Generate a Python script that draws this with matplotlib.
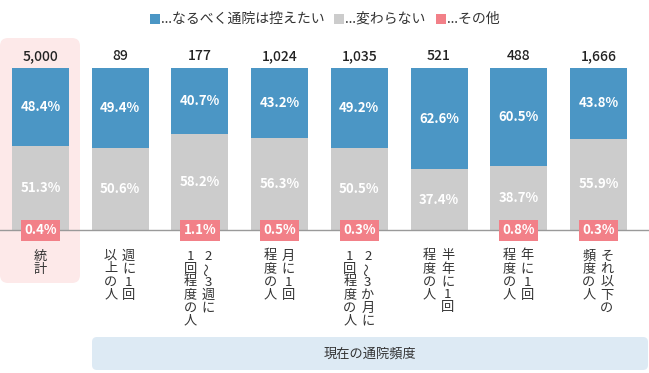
import matplotlib
matplotlib.use("Agg")
import matplotlib.pyplot as plt
import matplotlib.transforms as mtransforms
from matplotlib.patches import FancyBboxPatch, Rectangle

plt.rcParams['font.family'] = ['Noto Sans CJK JP', 'DejaVu Sans']

# ---- data ----
counts = [5000, 89, 177, 1024, 1035, 521, 488, 1666]
blue_vals = [48.4, 49.4, 40.7, 43.2, 49.2, 62.6, 60.5, 43.8]
gray_vals = [51.3, 50.6, 58.2, 56.3, 50.5, 37.4, 38.7, 55.9]
other_vals = [0.4, 0.0, 1.1, 0.5, 0.3, 0.0, 0.8, 0.3]
cat_labels = [
    ["統計"],
    ["週に1回", "以上の人"],
    ["2〜3週に", "1回程度の人"],
    ["月に1回", "程度の人"],
    ["2〜3か月に", "1回程度の人"],
    ["半年に1回", "程度の人"],
    ["年に1回", "程度の人"],
    ["それ以下の", "頻度の人"],
]
legend_labels = ["…なるべく通院は控えたい", "…変わらない", "…その他"]
group_label = "現在の通院頻度"

BLUE = "#4b96c5"
GRAY = "#cccccc"
PINK = "#f28088"
TXT = "#333333"

W, H = 649, 373
fig = plt.figure(figsize=(W / 100, H / 100), dpi=100)
pix = mtransforms.Affine2D().scale(1 / W, -1 / H).translate(0, 1) + fig.transFigure

# background highlights
fig.patches.append(FancyBboxPatch((0, 38), 80, 245, boxstyle="round,pad=0,rounding_size=8",
                                  transform=pix, facecolor="#fde9e9", edgecolor="none", zorder=0))
fig.patches.append(FancyBboxPatch((92, 337), 556, 33, boxstyle="round,pad=0,rounding_size=5",
                                  transform=pix, facecolor="#ddeaf4", edgecolor="none", zorder=0))
fig.text((92 + 648) / 2 / W, 1 - 354 / H, group_label, ha="center", va="center",
         fontsize=9.5, color=TXT)

ax = fig.add_axes([0, 1 - 230 / H, 1, 162 / H])
ax.set_zorder(2)
ax.patch.set_alpha(0)
spacing = 79.7
ax.set_xlim(-40.5 / spacing, (W - 40.5) / spacing)
ax.set_ylim(0, 100)
ax.axis("off")

x = list(range(len(counts)))
bw = 57 / spacing
# the small "other" share is shown only as a label box on the baseline
ax.bar(x, gray_vals, width=bw, color=GRAY, zorder=2)
tops = [100 - b for b in blue_vals]
ax.bar(x, blue_vals, width=bw, bottom=tops, color=BLUE, zorder=2)
ax.bar(x, [t - g for t, g in zip(tops, gray_vals)], width=bw, bottom=gray_vals, color=GRAY, zorder=2)
ax.axhline(0, color="#9a9a9a", lw=1, zorder=3, clip_on=False)

bt = mtransforms.blended_transform_factory(ax.transData, pix)
for i in x:
    g, b = gray_vals[i], blue_vals[i]
    ax.text(i, 100 - b / 2, f"{b:.1f}%", ha="center", va="center", color="white",
            fontsize=9.5, fontweight="bold", zorder=4)
    ax.text(i, (100 - b) / 2, f"{g:.1f}%", ha="center", va="center", color="white",
            fontsize=9.5, fontweight="bold", zorder=4)
    ax.text(i, 56, f"{counts[i]:,}", transform=bt, ha="center", va="center", color="#222222",
            fontsize=10, fontweight="medium", zorder=4, clip_on=False)

for i in x:
    if other_vals[i] > 0:
        ax.text(i, 230.5, f"{other_vals[i]:.1f}%", transform=bt, ha="center", va="center",
                color="white", fontsize=9.5, fontweight="bold", zorder=5, clip_on=False,
                bbox=dict(boxstyle="square,pad=0.25", facecolor=PINK, edgecolor="none"))
    cols = cat_labels[i]
    ncol = len(cols)
    for c, col in enumerate(cols):
        off = 0 if ncol == 1 else (8.5 if c == 0 else -9.5)
        xc = i + off / spacing
        for k, ch in enumerate(col):
            rot = 90 if ch == "〜" else 0
            ax.text(xc, 256 + 13 * k, ch, transform=bt, ha="center", va="center",
                    rotation=rot, color=TXT, fontsize=9.5, clip_on=False)

# legend, laid out and centred
LEG_FONT = ['Noto Sans', 'Noto Sans CJK JP', 'DejaVu Sans']
renderer = fig.canvas.get_renderer()
sq, gap_sq, gap_item = 10, 1, 10
colors = [BLUE, GRAY, PINK]
widths = []
for lab in legend_labels:
    t = fig.text(0, 0, lab, fontsize=10, family=LEG_FONT)
    widths.append(t.get_window_extent(renderer).width)
    t.remove()
total = sum(sq + gap_sq + w for w in widths) + gap_item * (len(widths) - 1)
lx = W / 2 - total / 2
for colr, lab, w in zip(colors, legend_labels, widths):
    fig.patches.append(Rectangle((lx, 14), sq, sq, transform=pix, facecolor=colr, edgecolor="none"))
    fig.text((lx + sq + gap_sq) / W, 1 - 19 / H, lab, ha="left", va="center", fontsize=10,
             color=TXT, family=LEG_FONT)
    lx += sq + gap_sq + w + gap_item

fig.savefig("out.png", dpi=100)
